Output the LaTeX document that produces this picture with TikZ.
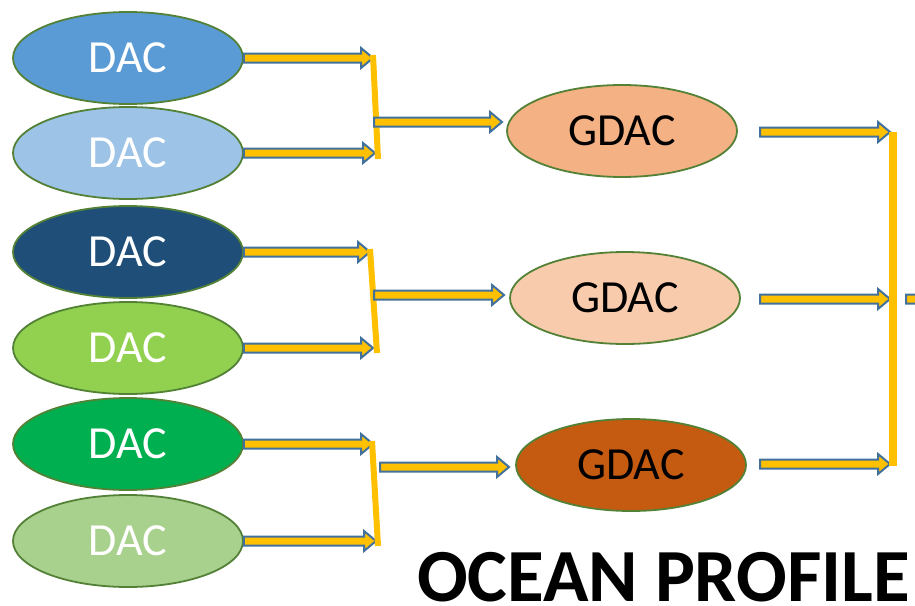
\documentclass[tikz,border=0pt]{standalone}
\usepackage{fontspec}
\setmainfont{Carlito}
\usetikzlibrary{calc,shapes.geometric}

\definecolor{edgegreen}{HTML}{538135}
\definecolor{arrowblue}{HTML}{41719C}
\definecolor{barfill}{HTML}{FFC000}
\definecolor{dacA}{HTML}{5B9BD5}
\definecolor{dacB}{HTML}{9DC3E6}
\definecolor{dacC}{HTML}{1F4E79}
\definecolor{dacD}{HTML}{92D050}
\definecolor{dacE}{HTML}{00B050}
\definecolor{dacF}{HTML}{A9D18E}
\definecolor{gdacA}{HTML}{F4B183}
\definecolor{gdacB}{HTML}{F8CBAD}
\definecolor{gdacC}{HTML}{C55A11}

\tikzset{
  dac/.style={ellipse, draw=edgegreen, line width=1.8pt, minimum width=230pt,
    minimum height=92pt, inner sep=0pt, text=white,
    font=\fontsize{46}{50}\selectfont},
  gdac/.style={dac, text=black},
  joinbar/.style={draw=barfill, line width=6pt},
  blockarrow/.style={draw=arrowblue, fill=barfill, line width=2pt, line join=miter},
  title/.style={font=\fontsize{75}{80}\selectfont\bfseries, inner sep=0pt}
}

% horizontal block arrow from the first point to the x of the second point
\newcommand\blockarr[2]{%
  \path[blockarrow] let \p1=(#1), \p2=(#2) in
    (\x1,\y1+4.5pt) -- (\x2-12pt,\y1+4.5pt) -- (\x2-12pt,\y1+10pt) -- (\x2,\y1)
    -- (\x2-12pt,\y1-10pt) -- (\x2-12pt,\y1-4.5pt) -- (\x1,\y1-4.5pt) -- cycle;}

\begin{document}
\begin{tikzpicture}[x=1pt,y=-1pt]
\clip (0,0) rectangle (915,605);
\fill[white] (0,0) rectangle (915,605);

% data assembly centres
\node[dac, fill=dacA] (d1) at (128,58)  {DAC};
\node[dac, fill=dacB] (d2) at (128,153) {DAC};
\node[dac, fill=dacC] (d3) at (128,252) {DAC};
\node[dac, fill=dacD] (d4) at (128,348) {DAC};
\node[dac, fill=dacE] (d5) at (128,444) {DAC};
\node[dac, fill=dacF] (d6) at (128,541) {DAC};

% global data assembly centres
\node[gdac, fill=gdacA] (g1) at (622,131) {GDAC};
\node[gdac, fill=gdacB] (g2) at (625,298) {GDAC};
\node[gdac, fill=gdacC] (g3) at (631,465) {GDAC};

% junction points
\coordinate (e1) at (373,58);  \coordinate (e2) at (375,153);
\coordinate (e3) at (370,252); \coordinate (e4) at (373,348);
\coordinate (e5) at (373,444); \coordinate (e6) at (376,541);
\coordinate (j1t) at (373,55);  \coordinate (j1b) at (378,159);
\coordinate (j2t) at (370,249); \coordinate (j2b) at (377,353);
\coordinate (j3t) at (372,441); \coordinate (j3b) at (378,546);
\coordinate (m1) at (374,122); \coordinate (h1) at (502,122);
\coordinate (m2) at (374,295); \coordinate (h2) at (504,295);
\coordinate (m3) at (380,467); \coordinate (h3) at (509,467);
\coordinate (k1) at (760,132); \coordinate (p1) at (890,132);
\coordinate (k2) at (760,299); \coordinate (p2) at (890,299);
\coordinate (k3) at (760,464); \coordinate (p3) at (890,464);
\coordinate (jt) at (893,132); \coordinate (jb) at (893,466);
\coordinate (q) at (906,299);  \coordinate (r) at (1010,299);

% DAC to junction arrows
\blockarr{d1.east}{e1}
\blockarr{d2.east}{e2}
\blockarr{d3.east}{e3}
\blockarr{d4.east}{e4}
\blockarr{d5.east}{e5}
\blockarr{d6.east}{e6}

% junction bars
\draw[joinbar] (j1t) -- (j1b);
\draw[joinbar] (j2t) -- (j2b);
\draw[joinbar] (j3t) -- (j3b);

% junction to GDAC arrows
\blockarr{m1}{h1}
\blockarr{m2}{h2}
\blockarr{m3}{h3}

% GDAC outputs
\blockarr{k1}{p1}
\blockarr{k2}{p2}
\blockarr{k3}{p3}
\draw[draw=barfill, line width=8pt] (jt) -- (jb);
\blockarr{q}{r}

\node[title, anchor=base west] (t) at (417,601) {OCEAN PROFILE};
\end{tikzpicture}
\end{document}
